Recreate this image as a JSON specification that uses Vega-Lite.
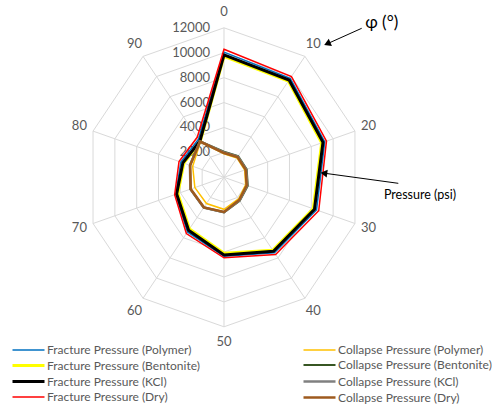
{
  "$schema": "https://vega.github.io/schema/vega-lite/v6.json",
  "width": 492,
  "height": 409,
  "autosize": {"type": "none"},
  "padding": 0,
  "background": "white",
  "config": {"view": {"stroke": null}, "font": "Lato"},
  "datasets": {
    "rings": [
      {"r": 2000, "phi": [0, 10, 20, 30, 40, 50, 60, 70, 80, 90]},
      {"r": 4000, "phi": [0, 10, 20, 30, 40, 50, 60, 70, 80, 90]},
      {"r": 6000, "phi": [0, 10, 20, 30, 40, 50, 60, 70, 80, 90]},
      {"r": 8000, "phi": [0, 10, 20, 30, 40, 50, 60, 70, 80, 90]},
      {"r": 10000, "phi": [0, 10, 20, 30, 40, 50, 60, 70, 80, 90]},
      {"r": 12000, "phi": [0, 10, 20, 30, 40, 50, 60, 70, 80, 90]}
    ],
    "spokes": [
      {"phi": 0, "r": [0, 12000]}, {"phi": 10, "r": [0, 12000]}, {"phi": 20, "r": [0, 12000]},
      {"phi": 30, "r": [0, 12000]}, {"phi": 40, "r": [0, 12000]}, {"phi": 50, "r": [0, 12000]},
      {"phi": 60, "r": [0, 12000]}, {"phi": 70, "r": [0, 12000]}, {"phi": 80, "r": [0, 12000]},
      {"phi": 90, "r": [0, 12000]}
    ],
    "angleLabels": [
      {"phi": 0, "label": "0"}, {"phi": 10, "label": "10"}, {"phi": 20, "label": "20"},
      {"phi": 30, "label": "30"}, {"phi": 40, "label": "40"}, {"phi": 50, "label": "50"},
      {"phi": 60, "label": "60"}, {"phi": 70, "label": "70"}, {"phi": 80, "label": "80"},
      {"phi": 90, "label": "90"}
    ],
    "radialLabels": [
      {"r": 2000, "label": "2000"}, {"r": 4000, "label": "4000"}, {"r": 6000, "label": "6000"},
      {"r": 8000, "label": "8000"}, {"r": 10000, "label": "10000"}, {"r": 12000, "label": "12000"}
    ],
    "pressure": [
      {"phi": 0, "Fracture Pressure (Polymer)": 10050, "Fracture Pressure (Bentonite)": 9700, "Fracture Pressure (KCl)": 9820, "Fracture Pressure (Dry)": 10280, "Collapse Pressure (Polymer)": 1880, "Collapse Pressure (Bentonite)": 2050, "Collapse Pressure (KCl)": 2000, "Collapse Pressure (Dry)": 1950},
      {"phi": 10, "Fracture Pressure (Polymer)": 9820, "Fracture Pressure (Bentonite)": 9550, "Fracture Pressure (KCl)": 9650, "Fracture Pressure (Dry)": 10000, "Collapse Pressure (Polymer)": 1920, "Collapse Pressure (Bentonite)": 2100, "Collapse Pressure (KCl)": 2050, "Collapse Pressure (Dry)": 2000},
      {"phi": 20, "Fracture Pressure (Polymer)": 9230, "Fracture Pressure (Bentonite)": 8950, "Fracture Pressure (KCl)": 9070, "Fracture Pressure (Dry)": 9390, "Collapse Pressure (Polymer)": 1900, "Collapse Pressure (Bentonite)": 2080, "Collapse Pressure (KCl)": 2030, "Collapse Pressure (Dry)": 1980},
      {"phi": 30, "Fracture Pressure (Polymer)": 8480, "Fracture Pressure (Bentonite)": 8180, "Fracture Pressure (KCl)": 8290, "Fracture Pressure (Dry)": 8680, "Collapse Pressure (Polymer)": 1980, "Collapse Pressure (Bentonite)": 2180, "Collapse Pressure (KCl)": 2130, "Collapse Pressure (Dry)": 2080},
      {"phi": 40, "Fracture Pressure (Polymer)": 7480, "Fracture Pressure (Bentonite)": 7230, "Fracture Pressure (KCl)": 7330, "Fracture Pressure (Dry)": 7650, "Collapse Pressure (Polymer)": 2150, "Collapse Pressure (Bentonite)": 2330, "Collapse Pressure (KCl)": 2300, "Collapse Pressure (Dry)": 2250},
      {"phi": 50, "Fracture Pressure (Polymer)": 6340, "Fracture Pressure (Bentonite)": 6100, "Fracture Pressure (KCl)": 6240, "Fracture Pressure (Dry)": 6460, "Collapse Pressure (Polymer)": 2570, "Collapse Pressure (Bentonite)": 2820, "Collapse Pressure (KCl)": 2800, "Collapse Pressure (Dry)": 2780},
      {"phi": 60, "Fracture Pressure (Polymer)": 5420, "Fracture Pressure (Bentonite)": 5120, "Fracture Pressure (KCl)": 5250, "Fracture Pressure (Dry)": 5580, "Collapse Pressure (Polymer)": 2600, "Collapse Pressure (Bentonite)": 3000, "Collapse Pressure (KCl)": 3000, "Collapse Pressure (Dry)": 2980},
      {"phi": 70, "Fracture Pressure (Polymer)": 4430, "Fracture Pressure (Bentonite)": 4230, "Fracture Pressure (KCl)": 4340, "Fracture Pressure (Dry)": 4520, "Collapse Pressure (Polymer)": 2670, "Collapse Pressure (Bentonite)": 3080, "Collapse Pressure (KCl)": 3080, "Collapse Pressure (Dry)": 3050},
      {"phi": 80, "Fracture Pressure (Polymer)": 3950, "Fracture Pressure (Bentonite)": 3680, "Fracture Pressure (KCl)": 3770, "Fracture Pressure (Dry)": 4120, "Collapse Pressure (Polymer)": 2870, "Collapse Pressure (Bentonite)": 3120, "Collapse Pressure (KCl)": 3120, "Collapse Pressure (Dry)": 3100},
      {"phi": 90, "Fracture Pressure (Polymer)": 3780, "Fracture Pressure (Bentonite)": 3530, "Fracture Pressure (KCl)": 3580, "Fracture Pressure (Dry)": 3970, "Collapse Pressure (Polymer)": 3500, "Collapse Pressure (Bentonite)": 3560, "Collapse Pressure (KCl)": 3560, "Collapse Pressure (Dry)": 3550}
    ],
    "arrows": [
      {"name": "phi", "x": 12000, "y": 11960, "x2": 9090, "y2": 10756},
      {"name": "pressure", "x": 15190, "y": -482, "x2": 8802, "y2": 321}
    ],
    "notes": [
      {"name": "phi", "x": 13744, "y": 12362, "label": "φ (°)"},
      {"name": "pressure", "x": 17081, "y": -1421, "label": "Pressure (psi)"}
    ]
  },
  "layer": [
    {
      "data": {"name": "rings"},
      "transform": [
        {"flatten": ["phi"]},
        {"calculate": "datum.phi * PI / 50", "as": "t"},
        {"calculate": "datum.r * sin(datum.t)", "as": "x"},
        {"calculate": "datum.r * cos(datum.t)", "as": "y"}
      ],
      "mark": {"type": "line", "interpolate": "linear-closed", "color": "#d9d9d9", "strokeWidth": 1},
      "encoding": {
        "x": {"field": "x", "type": "quantitative", "scale": {"domain": [-19521, 23356], "nice": false, "zero": false}, "axis": null},
        "y": {"field": "y", "type": "quantitative", "scale": {"domain": [-18597, 14232], "nice": false, "zero": false}, "axis": null},
        "detail": {"field": "r", "type": "nominal"},
        "order": {"field": "phi", "type": "quantitative"}
      }
    },
    {
      "data": {"name": "spokes"},
      "transform": [
        {"flatten": ["r"]},
        {"calculate": "datum.phi * PI / 50", "as": "t"},
        {"calculate": "datum.r * sin(datum.t)", "as": "x"},
        {"calculate": "datum.r * cos(datum.t)", "as": "y"}
      ],
      "mark": {"type": "line", "color": "#d9d9d9", "strokeWidth": 1},
      "encoding": {
        "x": {"field": "x", "type": "quantitative", "scale": {"domain": [-19521, 23356], "nice": false, "zero": false}, "axis": null},
        "y": {"field": "y", "type": "quantitative", "scale": {"domain": [-18597, 14232], "nice": false, "zero": false}, "axis": null},
        "detail": {"field": "phi", "type": "nominal"},
        "order": {"field": "r", "type": "quantitative"}
      }
    },
    {
      "data": {"name": "radialLabels"},
      "mark": {"type": "text", "align": "right", "baseline": "middle", "dx": -14, "fontSize": 13, "color": "#595959", "font": "Lato"},
      "encoding": {
        "x": {"datum": 0, "type": "quantitative"},
        "y": {"field": "r", "type": "quantitative"},
        "text": {"field": "label"}
      }
    },
    {
      "data": {"name": "angleLabels"},
      "transform": [
        {"calculate": "datum.phi * PI / 50", "as": "t"},
        {"calculate": "13250 * sin(datum.t)", "as": "x"},
        {"calculate": "13250 * cos(datum.t)", "as": "y"}
      ],
      "mark": {"type": "text", "align": "center", "baseline": "middle", "fontSize": 13, "color": "#595959", "font": "Lato"},
      "encoding": {
        "x": {"field": "x", "type": "quantitative"},
        "y": {"field": "y", "type": "quantitative"},
        "text": {"field": "label"}
      }
    },
    {
      "data": {"name": "pressure"},
      "transform": [
        {"fold": ["Fracture Pressure (Polymer)", "Fracture Pressure (Bentonite)", "Fracture Pressure (KCl)", "Fracture Pressure (Dry)", "Collapse Pressure (Polymer)", "Collapse Pressure (Bentonite)", "Collapse Pressure (KCl)", "Collapse Pressure (Dry)"], "as": ["series", "p"]},
        {"calculate": "datum.phi * PI / 50", "as": "t"},
        {"calculate": "datum.p * sin(datum.t)", "as": "x"},
        {"calculate": "datum.p * cos(datum.t)", "as": "y"}
      ],
      "mark": {"type": "line", "interpolate": "linear-closed"},
      "encoding": {
        "x": {"field": "x", "type": "quantitative"},
        "y": {"field": "y", "type": "quantitative"},
        "order": {"field": "phi", "type": "quantitative"},
        "color": {
          "field": "series", "type": "nominal",
          "scale": {
            "domain": ["Fracture Pressure (Polymer)", "Fracture Pressure (Bentonite)", "Fracture Pressure (KCl)", "Fracture Pressure (Dry)", "Collapse Pressure (Polymer)", "Collapse Pressure (Bentonite)", "Collapse Pressure (KCl)", "Collapse Pressure (Dry)"],
            "range": ["#0070C0", "#FFFF00", "#000000", "#FF0000", "#FFC000", "#375623", "#808080", "#9E5A1E"]
          },
          "legend": {
            "orient": "none", "legendX": 22, "legendY": 344, "columns": 2, "title": null,
            "symbolType": "M-3.2,0H3.2", "symbolSize": 100, "labelFontSize": 12, "labelColor": "#595959",
            "labelFont": "Lato", "columnPadding": 98, "rowPadding": 3, "labelOffset": 12, "padding": 0,
            "labelLimit": 300
          }
        },
        "strokeWidth": {
          "field": "series", "type": "nominal",
          "scale": {
            "type": "ordinal",
            "domain": ["Fracture Pressure (Polymer)", "Fracture Pressure (Bentonite)", "Fracture Pressure (KCl)", "Fracture Pressure (Dry)", "Collapse Pressure (Polymer)", "Collapse Pressure (Bentonite)", "Collapse Pressure (KCl)", "Collapse Pressure (Dry)"],
            "range": [1.5, 3, 3, 1.5, 1.5, 2, 2.5, 2.5]
          },
          "legend": {
            "orient": "none", "legendX": 22, "legendY": 344, "columns": 2, "title": null,
            "symbolType": "M-3.2,0H3.2", "symbolSize": 100, "labelFontSize": 12, "labelColor": "#595959",
            "labelFont": "Lato", "columnPadding": 98, "rowPadding": 3, "labelOffset": 12, "padding": 0,
            "labelLimit": 300
          }
        }
      }
    },
    {
      "data": {"name": "arrows"},
      "mark": {"type": "rule", "color": "#000000", "strokeWidth": 1},
      "encoding": {
        "x": {"field": "x", "type": "quantitative"},
        "y": {"field": "y", "type": "quantitative"},
        "x2": {"field": "x2"},
        "y2": {"field": "y2"}
      }
    },
    {
      "data": {"name": "arrows"},
      "transform": [{"filter": "datum.name === 'phi'"}],
      "mark": {"type": "point", "shape": "triangle", "filled": true, "color": "#000000", "size": 60, "angle": 246, "opacity": 1},
      "encoding": {
        "x": {"field": "x2", "type": "quantitative"},
        "y": {"field": "y2", "type": "quantitative"}
      }
    },
    {
      "data": {"name": "arrows"},
      "transform": [{"filter": "datum.name === 'pressure'"}],
      "mark": {"type": "point", "shape": "triangle", "filled": true, "color": "#000000", "size": 60, "angle": 278, "opacity": 1},
      "encoding": {
        "x": {"field": "x2", "type": "quantitative"},
        "y": {"field": "y2", "type": "quantitative"}
      }
    },
    {
      "data": {"name": "notes"},
      "transform": [{"filter": "datum.name === 'phi'"}],
      "mark": {"type": "text", "align": "center", "baseline": "middle", "fontSize": 17, "color": "#000000", "font": "Lato"},
      "encoding": {
        "x": {"field": "x", "type": "quantitative"},
        "y": {"field": "y", "type": "quantitative"},
        "text": {"field": "label"}
      }
    },
    {
      "data": {"name": "notes"},
      "transform": [{"filter": "datum.name === 'pressure'"}],
      "mark": {"type": "text", "align": "center", "baseline": "middle", "fontSize": 12.5, "color": "#000000", "font": "Lato"},
      "encoding": {
        "x": {"field": "x", "type": "quantitative"},
        "y": {"field": "y", "type": "quantitative"},
        "text": {"field": "label"}
      }
    }
  ]
}
